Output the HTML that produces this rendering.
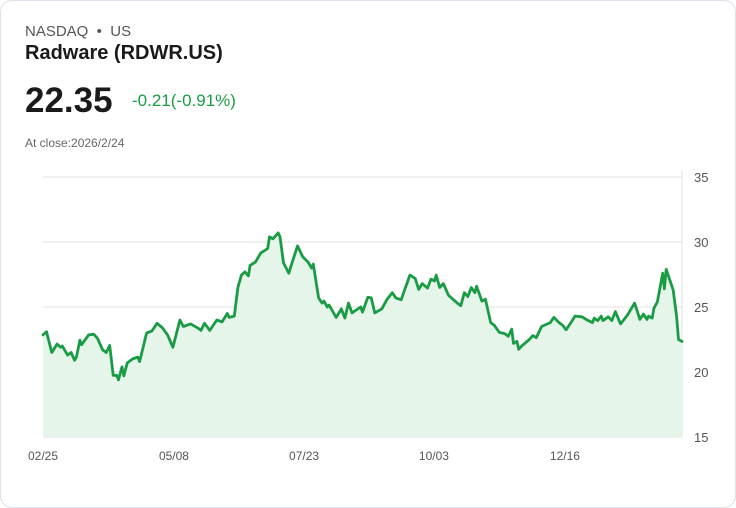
<!DOCTYPE html>
<html><head><meta charset="utf-8"><style>
html,body{margin:0;padding:0;background:#fff;}
body{width:736px;height:508px;position:relative;font-family:"Liberation Sans",sans-serif;overflow:hidden;}
.card{position:absolute;left:0;top:0;width:734px;height:506px;border:1px solid #dde3ec;border-radius:12px;}
.t{position:absolute;white-space:nowrap;}
</style></head><body>
<div class="card"></div>
<div class="t" style="left:25px;top:23px;font-size:15px;color:#555;">NASDAQ &nbsp;•&nbsp; US</div>
<div class="t" style="left:25px;top:42px;font-size:20px;font-weight:bold;color:#1a1a1a;">Radware (RDWR.US)</div>
<div class="t" style="left:25px;top:81px;font-size:35px;font-weight:bold;color:#1a1a1a;">22.35</div>
<div class="t" style="left:132px;top:91px;font-size:17px;color:#1a9c45;">-0.21(-0.91%)</div>
<div class="t" style="left:25px;top:136px;font-size:12px;color:#666;">At close:2026/2/24</div>
<svg id="chart" width="736" height="508" style="position:absolute;left:0;top:0;"></svg>
<script>
const days=[0,2,5,8,10,11,14,16,18,19,21,22,26,29,31,34,36,38,40,42,43,45,46,48,51,54,55,59,62,65,68,71,74,78,80,84,88,90,92,95,99,102,105,106,109,111,113,115,117,118,121,124,128,129,131,134,135,137,140,142,145,148,151,153,154,157,159,160,162,163,167,170,172,174,176,181,182,185,187,189,193,196,199,201,204,209,212,214,216,219,221,223,224,226,228,231,236,238,240,242,244,246,247,250,252,255,257,260,263,265,267,268,270,271,273,277,279,281,284,289,291,294,296,298,301,303,307,310,313,314,316,318,319,322,324,326,329,333,337,340,342,344,345,347,348,350,353,354,355,359,361,362,364];
const prices=[22.85,23.1,21.5,22.15,21.9,22.0,21.3,21.5,20.9,21.15,22.45,22.1,22.85,22.9,22.6,21.7,21.5,22.05,19.75,19.75,19.4,20.4,19.7,20.7,21.0,21.15,20.8,23.0,23.15,23.75,23.4,22.85,21.9,24.0,23.5,23.7,23.4,23.2,23.75,23.2,24.0,23.85,24.5,24.2,24.3,26.5,27.45,27.7,27.4,28.2,28.45,29.15,29.5,30.4,30.25,30.7,30.4,28.4,27.6,28.45,29.7,28.85,28.45,28.0,28.3,25.7,25.3,25.45,25.0,25.15,24.2,24.85,24.15,25.3,24.55,25.0,24.6,25.75,25.7,24.55,24.85,25.6,26.1,25.7,25.55,27.45,27.2,26.35,26.8,26.45,27.15,27.0,27.45,26.5,26.8,25.9,25.3,25.1,26.1,25.8,26.5,26.1,26.6,25.45,25.6,23.8,23.6,23.05,22.95,22.75,23.3,22.2,22.35,21.75,22.05,22.5,22.8,22.65,23.5,23.8,24.2,23.8,23.6,23.25,23.85,24.3,24.25,24.0,23.8,24.15,23.95,24.3,23.95,24.25,23.95,24.65,23.7,24.4,25.3,24.05,24.45,24.05,24.3,24.15,24.9,25.4,27.6,26.4,27.9,26.3,24.2,22.5,22.35];
const yTicks=[15,20,25,30,35];
const xTickLabels=["02/25","05/08","07/23","10/03","12/16"];
const xTickDays=[0,74.6,148.7,222.7,297.3];

const svg=document.getElementById('chart');
const NS='http://www.w3.org/2000/svg';
const X0=43,X1=682,Y0=437,Y1=177,DMAX=364,VMIN=15,VMAX=35;
const xs=d=>X0+(d/DMAX)*(X1-X0);
const ys=v=>Y0-(v-VMIN)/(VMAX-VMIN)*(Y0-Y1);
function mk(tag,attrs){const e=document.createElementNS(NS,tag);for(const k in attrs)e.setAttribute(k,attrs[k]);svg.appendChild(e);return e;}
yTicks.forEach(v=>{
  const l=mk('line',{x1:X0,x2:X1,y1:ys(v),y2:ys(v),stroke:'#e2e2e2','stroke-width':1});
  
  
  const t=mk('text',{x:694,y:ys(v)+5,'font-size':13,fill:'#555','font-family':'Liberation Sans, sans-serif'});
  t.textContent=v;
  
  
});
const ax=mk('line',{x1:X1,x2:X1,y1:170,y2:Y0,stroke:'#e2e2e2','stroke-width':1});


xTickLabels.forEach((s,i)=>{
  const t=mk('text',{x:xs(xTickDays[i]),y:460,'font-size':12,fill:'#555','text-anchor':'middle','font-family':'Liberation Sans, sans-serif'});
  t.textContent=s;
  
  
});
let d='';
days.forEach((dd,i)=>{d+=(i?'L':'M')+xs(dd).toFixed(1)+' '+ys(prices[i]).toFixed(1);});
const area=mk('path',{d:d+'L'+xs(days[days.length-1])+' '+Y0+'L'+xs(days[0])+' '+Y0+'Z',fill:'#e5f5ea'});


const line=mk('path',{d:d,fill:'none',stroke:'#1a9c45','stroke-width':2.8,'stroke-linejoin':'round','stroke-linecap':'round'});


</script>
</body></html>
